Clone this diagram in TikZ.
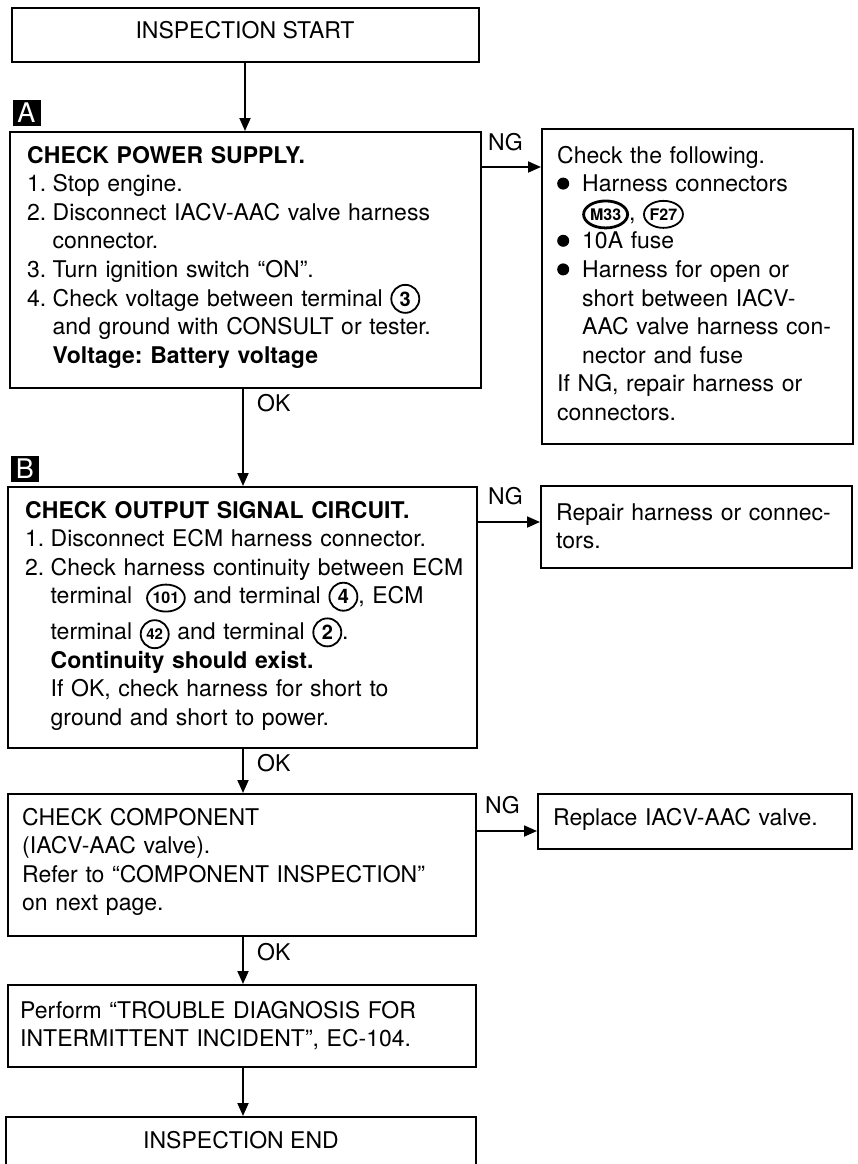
\documentclass[tikz,border=0pt]{standalone}
\usepackage{fontspec}
\setmainfont{TeX Gyre Heros}
\usetikzlibrary{arrows.meta,shapes.geometric}
\frenchspacing
\newcounter{cnn}
\newcommand{\cnum}[1]{\stepcounter{cnn}\tikz[baseline=(cn\thecnn.base)]\node[draw,circle,line width=1.8pt,inner sep=0pt,minimum size=28pt,text width={},font=\fontsize{20}{20}\bfseries\selectfont] (cn\thecnn) {#1};}
\newcommand{\scnum}[1]{\stepcounter{cnn}\tikz[baseline=(cn\thecnn.base)]\node[draw,circle,line width=1.8pt,inner sep=0pt,minimum size=28pt,text width={},font=\fontsize{15}{15}\bfseries\selectfont] (cn\thecnn) {#1};}
\newcommand{\ovl}[3]{\stepcounter{cnn}\tikz[baseline=(cn\thecnn.base)]\node[draw,ellipse,line width=#2,inner sep=0pt,minimum width=#3,minimum height=27pt,text width={},font=\fontsize{16}{16}\bfseries\selectfont] (cn\thecnn) {#1};}
\newcommand{\nm}[1]{\makebox[25.5pt][l]{#1}}
\newcommand{\ind}{\hspace*{25.5pt}}
\newcommand{\bul}{\makebox[25pt][l]{\tikz[baseline=0pt]\fill (6pt,8pt) circle (6pt);}}
\begin{document}
\begin{tikzpicture}[x=1pt,y=-1pt,
  bx/.style={draw,line width=1.8pt,inner sep=0pt,anchor=north west},
  txt/.style={anchor=base west,inner sep=0pt,align=left,text width=600pt,font=\fontsize{23}{28.6}\selectfont},
  lbl/.style={anchor=base west,inner sep=0pt,font=\fontsize{23}{28.6}\selectfont},
  tag/.style={fill=black,text=white,minimum width=28pt,minimum height=26pt,inner sep=0pt,font=\fontsize{27}{27}\selectfont},
  arr/.style={line width=1.8pt,-{Triangle[length=13pt,width=11pt]}}]
\useasboundingbox[fill=white] (0,0) rectangle (857,1164);
% boxes
\node[bx,minimum width=467pt,minimum height=54pt] (start) at (11,7) {};
\node[bx,minimum width=471pt,minimum height=256pt] (A) at (9,131) {};
\node[bx,minimum width=311pt,minimum height=315pt] (RA) at (541,128) {};
\node[bx,minimum width=469pt,minimum height=261pt] (B) at (7,486) {};
\node[bx,minimum width=311pt,minimum height=82pt] (RB) at (540,485) {};
\node[bx,minimum width=468pt,minimum height=142pt] (C) at (7,793) {};
\node[bx,minimum width=314pt,minimum height=55pt] (RC) at (537,793) {};
\node[bx,minimum width=468pt,minimum height=82pt] (D) at (7,984) {};
\node[bx,minimum width=470pt,minimum height=70pt] (E) at (5,1116) {};
% tags
\node[tag] (tagA) at (26.5,112.5) {A};
\node[tag] (tagB) at (25,469) {B};
% texts
\node[lbl,anchor=base] (tstart) at (245,39) {INSPECTION START};
\node[txt] (tA) at (27,163) {\textbf{CHECK POWER SUPPLY.}\\
\nm{1.}Stop engine.\\
\nm{2.}Disconnect IACV-AAC valve harness\\
\ind connector.\\
\nm{3.}Turn ignition switch “ON”.\\
\nm{4.}Check voltage between terminal \cnum{3}\\
\ind and ground with CONSULT or tester.\\
\ind\textbf{Voltage: Battery voltage}};
\node[txt] (tRA) at (557,163) {Check the following.\\
\bul Harness connectors\\
\hspace*{25pt}\ovl{M33}{2.8pt}{38pt}, \ovl{F27}{1.8pt}{34pt}\\
\bul 10A fuse\\
\bul Harness for open or\\
\hspace*{25pt}short between IACV-\\
\hspace*{25pt}AAC valve harness con-\\
\hspace*{25pt}nector and fuse\\
If NG, repair harness or\\
connectors.};
\node[txt] (tB) at (25,518) {\textbf{CHECK OUTPUT SIGNAL CIRCUIT.}\\
\nm{1.}Disconnect ECM harness connector.\\
\nm{2.}Check harness continuity between ECM\\
\ind terminal\hspace{14pt}\ovl{101}{1.8pt}{34pt} and terminal \cnum{4}, ECM\\[4pt]
\ind terminal \scnum{42} and terminal \cnum{2}.\\
\ind\textbf{Continuity should exist.}\\
\ind If OK, check harness for short to\\
\ind ground and short to power.};
\node[txt] (tRB) at (556,520) {Repair harness or connec-\\tors.};
\node[txt] (tC) at (22,825) {CHECK COMPONENT\\
(IACV-AAC valve).\\
Refer to “COMPONENT INSPECTION”\\
on next page.};
\node[txt] (tRC) at (553,825) {Replace IACV-AAC valve.};
\node[txt] (tD) at (20,1018) {Perform “TROUBLE DIAGNOSIS FOR\\
INTERMITTENT INCIDENT”, EC-104.};
\node[lbl,anchor=base] (tE) at (241,1148) {INSPECTION END};
% labels
\node[lbl] (ok1) at (257,411) {OK};
\node[lbl] (ok2) at (257,771) {OK};
\node[lbl] (ok3) at (257,960) {OK};
\node[lbl] (ng1) at (488,150) {NG};
\node[lbl] (ng2) at (488,504) {NG};
\node[lbl] (ng3) at (485,813) {NG};
% connectors
\coordinate (xa) at (245,0);
\coordinate (xb) at (243,0);
\coordinate (ya) at (0,167);
\coordinate (yb) at (0,522);
\coordinate (yc) at (0,831);
\draw[arr] (start.south -| xa) -- (A.north -| xa);
\draw[arr] (A.south -| xb) -- (B.north -| xb);
\draw[arr] (B.south -| xb) -- (C.north -| xb);
\draw[arr] (C.south -| xb) -- (D.north -| xb);
\draw[arr] (D.south -| xb) -- (E.north -| xb);
\draw[arr] (A.east |- ya) -- (RA.west |- ya);
\draw[arr] (B.east |- yb) -- (RB.west |- yb);
\draw[arr] (C.east |- yc) -- (RC.west |- yc);
\end{tikzpicture}
\end{document}
